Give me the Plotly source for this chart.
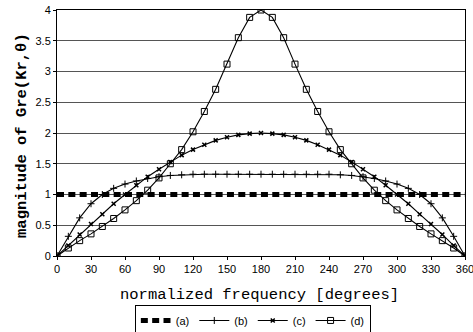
import plotly.graph_objects as go

deg = [0, 10, 20, 30, 40, 50, 60, 70, 80, 90, 100, 110, 120, 130, 140, 150, 160, 170, 180,
       190, 200, 210, 220, 230, 240, 250, 260, 270, 280, 290, 300, 310, 320, 330, 340, 350, 360]

a_vals = [1.0] * 37
b_vals = [0, 0.32, 0.62, 0.85, 1.00, 1.10, 1.17, 1.22, 1.26, 1.29, 1.31, 1.32, 1.33, 1.33, 1.33, 1.33, 1.33, 1.33, 1.33,
          1.33, 1.33, 1.33, 1.33, 1.33, 1.33, 1.32, 1.31, 1.29, 1.26, 1.22, 1.17, 1.10, 1.00, 0.85, 0.62, 0.32, 0]
c_vals = [0, 0.17, 0.35, 0.52, 0.68, 0.85, 1.00, 1.15, 1.29, 1.41, 1.53, 1.64, 1.73, 1.81, 1.88, 1.93, 1.97, 1.99, 2.00,
          1.99, 1.97, 1.93, 1.88, 1.81, 1.73, 1.64, 1.53, 1.41, 1.29, 1.15, 1.00, 0.85, 0.68, 0.52, 0.35, 0.17, 0]
d_vals = [0, 0.13, 0.25, 0.36, 0.48, 0.61, 0.75, 0.90, 1.07, 1.27, 1.50, 1.73, 2.02, 2.35, 2.71, 3.12, 3.55, 3.88, 4.00,
          3.88, 3.55, 3.12, 2.71, 2.35, 2.02, 1.73, 1.50, 1.27, 1.07, 0.90, 0.75, 0.61, 0.48, 0.36, 0.25, 0.13, 0]

x_ticks = [0, 30, 60, 90, 120, 150, 180, 210, 240, 270, 300, 330, 360]
y_ticks = [0, 0.5, 1, 1.5, 2, 2.5, 3, 3.5, 4]
y_tick_text = ["0", "0.5", "1", "1.5", "2", "2.5", "3", "3.5", "4"]

x_title = "normalized frequency [degrees]"
y_title = "<b>magnitude of Gre(Kr,\u03b8)</b>"

fig = go.Figure()
fig.add_trace(go.Scatter(x=deg, y=a_vals, name="(a)", mode="lines",
                         line=dict(color="black", width=5, dash="7px,4.33px")))
fig.add_trace(go.Scatter(x=deg, y=b_vals, name="(b)", mode="lines+markers",
                         line=dict(color="black", width=1.1),
                         marker=dict(symbol="cross-thin", size=5, line=dict(color="black", width=1))))
fig.add_trace(go.Scatter(x=deg, y=c_vals, name="(c)", mode="lines+markers",
                         line=dict(color="black", width=1.1),
                         marker=dict(symbol="x-thin", size=4, line=dict(color="black", width=1.5))))
fig.add_trace(go.Scatter(x=deg, y=d_vals, name="(d)", mode="lines+markers",
                         line=dict(color="black", width=1.1),
                         marker=dict(symbol="square-open", size=6, color="black", line=dict(width=1))))

mono = "Liberation Mono, Courier New, monospace"
fig.update_layout(
    template="none",
    width=473, height=332,
    margin=dict(l=57, r=8, t=10, b=76, pad=0, autoexpand=False),
    paper_bgcolor="white", plot_bgcolor="white",
    font=dict(family="Liberation Sans, Arial", size=11, color="black"),
    showlegend=True,
    legend=dict(orientation="h", xref="paper", yref="paper",
                x=0.48, xanchor="center", y=-0.199, yanchor="top",
                bordercolor="black", borderwidth=1, bgcolor="white",
                font=dict(size=11), tracegroupgap=0),
    xaxis=dict(range=[0, 360], tickvals=x_ticks, ticktext=[str(t) for t in x_ticks],
               automargin=False, ticklabeloverflow="allow",
               showgrid=False, zeroline=False, showline=True, linecolor="black", linewidth=1,
               mirror=True, ticks="outside", ticklen=3, tickcolor="black"),
    yaxis=dict(range=[0, 4], tickvals=y_ticks, ticktext=y_tick_text,
               automargin=False, ticklabeloverflow="allow",
               showgrid=True, gridcolor="#555555", gridwidth=1, zeroline=False,
               showline=True, linecolor="black", linewidth=1, mirror=True,
               ticks="outside", ticklen=3, tickcolor="black"),
    annotations=[
        dict(text=x_title, xref="paper", yref="paper", x=0.4975, y=0, yshift=-39,
             xanchor="center", yanchor="middle", showarrow=False,
             font=dict(family=mono, size=15.5)),
        dict(text=y_title, xref="paper", yref="paper", x=0, xshift=-35, y=0.488,
             xanchor="center", yanchor="middle", textangle=-90, showarrow=False,
             font=dict(family=mono, size=15.5)),
    ],
)

fig.write_html("out.html",
               config={"displayModeBar": False},
               post_script="document.body.style.margin='0';document.body.style.padding='0';")
